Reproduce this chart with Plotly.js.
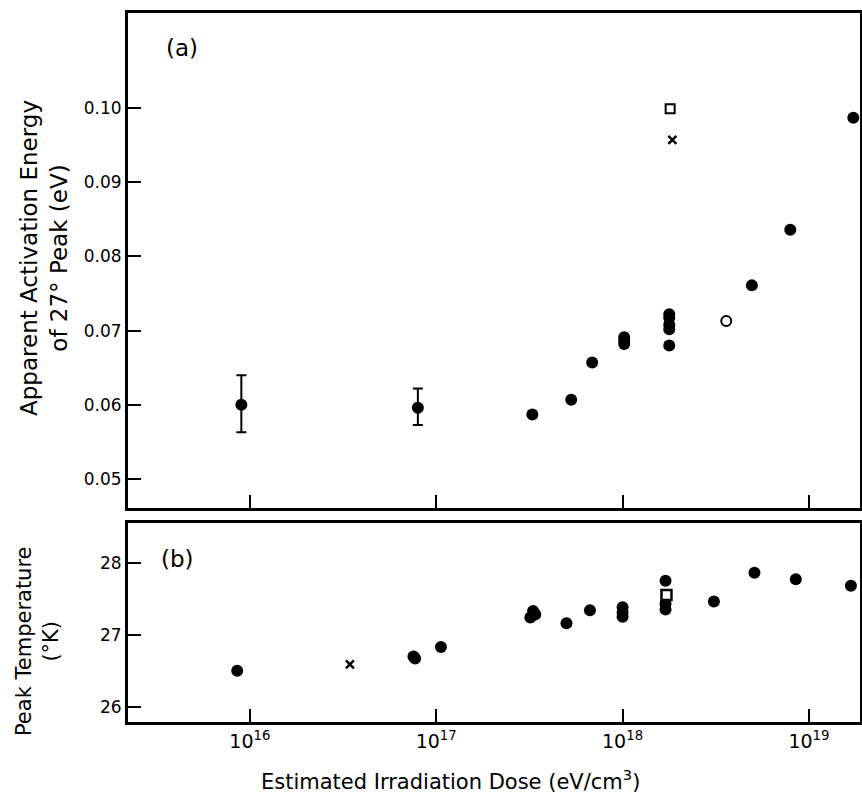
<!DOCTYPE html>
<html>
<head>
<meta charset="utf-8">
<script src="https://cdn.plot.ly/plotly-3.0.1.min.js"></script>
<style>html,body{margin:0;padding:0;background:#fff}#chart{width:862px;height:799px}</style>
</head>
<body>
<div id="chart"></div>
<script>
// ---- Panel (a): apparent activation energy (eV) ----
const energyErrDose  = [9.0e15, 7.97e16];
const energyErrVal   = [0.0600, 0.0596];
const energyErrPlus  = [0.0040, 0.0026];
const energyErrMinus = [0.0037, 0.0023];

const energyDose = [3.28e17, 5.3e17, 6.87e17, 1.02e18, 1.02e18, 1.02e18,
                    1.78e18, 1.78e18, 1.78e18, 1.78e18, 1.78e18, 4.94e18, 7.94e18, 1.73e19];
const energyVal  = [0.0587, 0.0607, 0.0657, 0.0691, 0.0686, 0.0682,
                    0.0722, 0.0717, 0.0708, 0.0702, 0.0680, 0.0761, 0.0836, 0.0987];

const energyOpenDose = [3.6e18];
const energyOpenVal  = [0.0713];
const energySquareDose = [1.8e18];
const energySquareVal  = [0.0999];
const energyCrossDose = [1.85e18];
const energyCrossVal  = [0.0957];

// ---- Panel (b): peak temperature (K) ----
const tempDose = [8.55e15, 7.55e16, 7.7e16, 1.06e17, 3.31e17, 3.4e17, 3.2e17, 5.0e17, 6.68e17,
                  1.0e18, 1.0e18, 1.0e18, 1.7e18, 1.7e18, 1.7e18, 3.09e18, 5.1e18, 8.5e18, 1.68e19];
const tempVal  = [26.50, 26.70, 26.67, 26.83, 27.33, 27.28, 27.24, 27.16, 27.34,
                  27.38, 27.31, 27.25, 27.75, 27.35, 27.43, 27.46, 27.86, 27.77, 27.68];
const tempCrossDose = [3.44e16];
const tempCrossVal  = [26.59];
const tempSquareDose = [1.72e18];
const tempSquareVal  = [27.55];

// ---- Axis ticks and titles ----
const doseTickVals = [1e16, 1e17, 1e18, 1e19];
const doseTickText = ['10<sup>16</sup>', '10<sup>17</sup>', '10<sup>18</sup>', '10<sup>19</sup>'];
const energyTickVals = [0.05, 0.06, 0.07, 0.08, 0.09, 0.10];
const energyTickText = ['0.05', '0.06', '0.07', '0.08', '0.09', '0.10'];
const tempTickVals = [26, 27, 28];
const tempTickText = ['26', '27', '28'];
const doseTitle = 'Estimated Irradiation Dose (eV/cm<sup>3</sup>)';
const energyTitle = 'Apparent Activation Energy<br>of 27° Peak (eV)';
const tempTitle = 'Peak Temperature<br>(°K)';

const FONT = '"DejaVu Sans", sans-serif';
const black = '#000';
const dot = {symbol: 'circle', size: 12, color: black};

const traces = [
  {x: energyErrDose, y: energyErrVal, xaxis: 'x2', yaxis: 'y2', type: 'scatter', mode: 'markers',
   marker: dot,
   error_y: {type: 'data', symmetric: false, array: energyErrPlus, arrayminus: energyErrMinus,
             color: black, thickness: 2, width: 5}},
  {x: energyDose, y: energyVal, xaxis: 'x2', yaxis: 'y2', type: 'scatter', mode: 'markers', marker: dot},
  {x: energyOpenDose, y: energyOpenVal, xaxis: 'x2', yaxis: 'y2', type: 'scatter', mode: 'markers',
   marker: {symbol: 'circle', size: 10, color: '#fff', line: {width: 2, color: black}}},
  {x: energySquareDose, y: energySquareVal, xaxis: 'x2', yaxis: 'y2', type: 'scatter', mode: 'markers',
   marker: {symbol: 'square', size: 9, color: '#fff', line: {width: 2, color: black}}},
  {x: energyCrossDose, y: energyCrossVal, xaxis: 'x2', yaxis: 'y2', type: 'scatter', mode: 'markers',
   marker: {symbol: 'x-thin-open', size: 8, color: black, line: {width: 2.5, color: black}}},

  {x: tempDose, y: tempVal, xaxis: 'x', yaxis: 'y', type: 'scatter', mode: 'markers', marker: dot},
  {x: tempCrossDose, y: tempCrossVal, xaxis: 'x', yaxis: 'y', type: 'scatter', mode: 'markers',
   marker: {symbol: 'x-thin-open', size: 8, color: black, line: {width: 2.5, color: black}}},
  {x: tempSquareDose, y: tempSquareVal, xaxis: 'x', yaxis: 'y', type: 'scatter', mode: 'markers',
   marker: {symbol: 'square', size: 10, color: '#fff', line: {width: 2.5, color: black}}}
];

const xRange = [15.346, 19.274];
const axisCommon = {showline: true, linecolor: black, linewidth: 3, mirror: true, showgrid: false,
                    zeroline: false, ticks: 'inside', ticklen: 13, tickwidth: 2, tickcolor: black,
                    tickfont: {family: FONT, size: 17, color: black}};

const layout = {
  width: 862, height: 799,
  margin: {l: 128, r: 2, t: 13, b: 77},
  paper_bgcolor: '#fff', plot_bgcolor: '#fff',
  showlegend: false,
  font: {family: FONT, color: black},
  xaxis: Object.assign({}, axisCommon, {
    type: 'log', range: xRange, domain: [0, 1], anchor: 'y',
    tickmode: 'array', tickvals: doseTickVals, ticktext: doseTickText,
    tickfont: {family: FONT, size: 19, color: black}
  }),
  yaxis: Object.assign({}, axisCommon, {
    range: [25.79, 28.55], domain: [0, 0.2807], anchor: 'x',
    tickmode: 'array', tickvals: tempTickVals, ticktext: tempTickText
  }),
  xaxis2: Object.assign({}, axisCommon, {
    type: 'log', range: xRange, domain: [0, 1], anchor: 'y2',
    tickmode: 'array', tickvals: doseTickVals, showticklabels: false
  }),
  yaxis2: Object.assign({}, axisCommon, {
    range: [0.0461, 0.1128], domain: [0.3018, 1], anchor: 'x2',
    tickmode: 'array', tickvals: energyTickVals, ticktext: energyTickText
  }),
  annotations: [
    {text: doseTitle, xref: 'paper', yref: 'paper', x: 0.4399, y: -0.0818, xanchor: 'center', yanchor: 'middle',
     showarrow: false, font: {family: FONT, size: 21, color: black}},
    {text: energyTitle, xref: 'paper', yref: 'paper', x: -0.1148, y: 0.6544, xanchor: 'center', yanchor: 'middle',
     textangle: -90, showarrow: false, font: {family: FONT, size: 23, color: black}},
    {text: tempTitle, xref: 'paper', yref: 'paper', x: -0.1243, y: 0.1142, xanchor: 'center', yanchor: 'middle',
     textangle: -90, showarrow: false, font: {family: FONT, size: 21, color: black}},
    {text: '(a)', xref: 'paper', yref: 'paper', x: 0.074, y: 0.9506, xanchor: 'center', yanchor: 'middle',
     showarrow: false, font: {family: FONT, size: 23, color: black}},
    {text: '(b)', xref: 'paper', yref: 'paper', x: 0.068, y: 0.230, xanchor: 'center', yanchor: 'middle',
     showarrow: false, font: {family: FONT, size: 23, color: black}}
  ]
};

Plotly.newPlot('chart', traces, layout, {displayModeBar: false, staticPlot: true});
</script>
</body>
</html>
